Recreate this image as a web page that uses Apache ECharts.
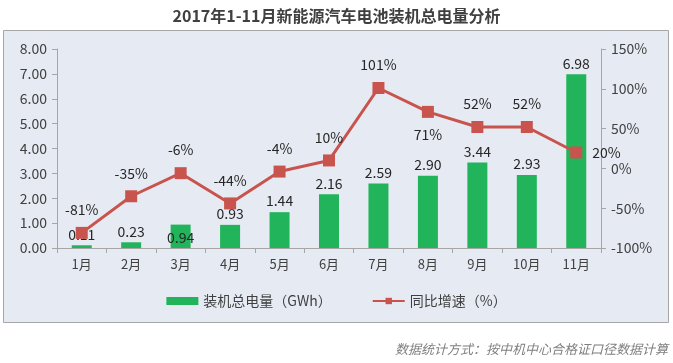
<!DOCTYPE html>
<html><head><meta charset="utf-8">
<script src="https://cdn.jsdelivr.net/npm/echarts@6/dist/echarts.min.js"></script>
<style>html,body{margin:0;padding:0;background:#fff}#c{width:673px;height:363px}</style>
</head><body><div id="c"></div>
<script>
const categories = ['1月','2月','3月','4月','5月','6月','7月','8月','9月','10月','11月'];
const capacity = [0.11, 0.23, 0.94, 0.93, 1.44, 2.16, 2.59, 2.90, 3.44, 2.93, 6.98];
const growth = [-81, -35, -6, -44, -4, 10, 101, 71, 52, 52, 20];
const leftTicks = [0, 8, 1];
const rightTicks = [-100, 150, 50];

const F = '"Noto Sans CJK SC", "Noto Sans", sans-serif';
const growthPos = ['top','top','top','top','top','top','top','bottom','top','top','right'];
const capOffset = {2: [0, 24]};

const chart = echarts.init(document.getElementById('c'), null, {renderer:'canvas'});
chart.setOption({
  backgroundColor: '#ffffff',
  animation: false,
  title: {
    text: '2017年1-11月新能源汽车电池装机总电量分析',
    left: 'center', top: 3,
    textStyle: {fontFamily: F, fontSize: 16, fontWeight: 'bold', color: '#404040'}
  },
  graphic: [
    {type:'rect', left: 3, top: 30, shape:{width: 665, height: 292}, style:{fill:'#e6ebf3', stroke:'#a6a6a6', lineWidth:1}, z:-10},
    {type:'text', right: 5, top: 343, style:{text:'数据统计方式：按中机中心合格证口径数据计算', font:'italic 13px "Noto Sans CJK SC"', fill:'#7f7f7f'}}
  ],
  grid: {left: 57, right: 72, top: 49, bottom: 115},
  legend: {
    bottom: 50, left: 'center', itemGap: 40, itemWidth: 32, itemHeight: 8,
    textStyle: {fontFamily: F, fontSize: 14, color: '#404040'},
    data: [
      {name:'装机总电量（GWh）', icon:'rect'},
      {name:'同比增速（%）'}
    ]
  },
  xAxis: {
    type: 'category', data: categories,
    axisLine: {lineStyle:{color:'#a6a6a6'}},
    axisTick: {show:true, alignWithLabel:false, length:5, lineStyle:{color:'#a6a6a6'}},
    axisLabel: {fontFamily: F, fontSize: 13, color:'#404040', margin: 10}
  },
  yAxis: [
    {type:'value', min: leftTicks[0], max: leftTicks[1], interval: leftTicks[2],
     axisLine:{show:true, lineStyle:{color:'#a6a6a6'}},
     axisTick:{show:true, length:5, lineStyle:{color:'#a6a6a6'}},
     splitLine:{show:false},
     axisLabel:{fontFamily:F, fontSize:14, color:'#404040', margin:10, formatter: v => v.toFixed(2)}},
    {type:'value', min: rightTicks[0], max: rightTicks[1], interval: rightTicks[2],
     axisLine:{show:true, lineStyle:{color:'#a6a6a6'}},
     axisTick:{show:true, length:5, lineStyle:{color:'#a6a6a6'}},
     splitLine:{show:false},
     axisLabel:{fontFamily:F, fontSize:14, color:'#404040', margin:10, formatter: v => v + '%'}}
  ],
  series: [
    {name:'装机总电量（GWh）', type:'bar', barWidth: 20, yAxisIndex:0,
     itemStyle:{color:'#21b45a'},
     data: capacity.map((v,i) => ({value:v, label: capOffset[i] ? {offset: capOffset[i]} : undefined})),
     label:{show:true, position:'top', distance:4, fontFamily:F, fontSize:14, color:'#262626', formatter: p => p.value.toFixed(2)}},
    {name:'同比增速（%）', type:'line', yAxisIndex:1,
     itemStyle:{color:'#c9544e'}, lineStyle:{color:'#c9544e', width:3},
     symbol:'rect', symbolSize: 12,
     data: growth.map((v,i) => ({value:v, label:{position: growthPos[i]}})),
     label:{show:true, distance:10, fontFamily:F, fontSize:14, color:'#262626', formatter: p => p.value + '%'}, z: 5}
  ]
});
</script></body></html>
